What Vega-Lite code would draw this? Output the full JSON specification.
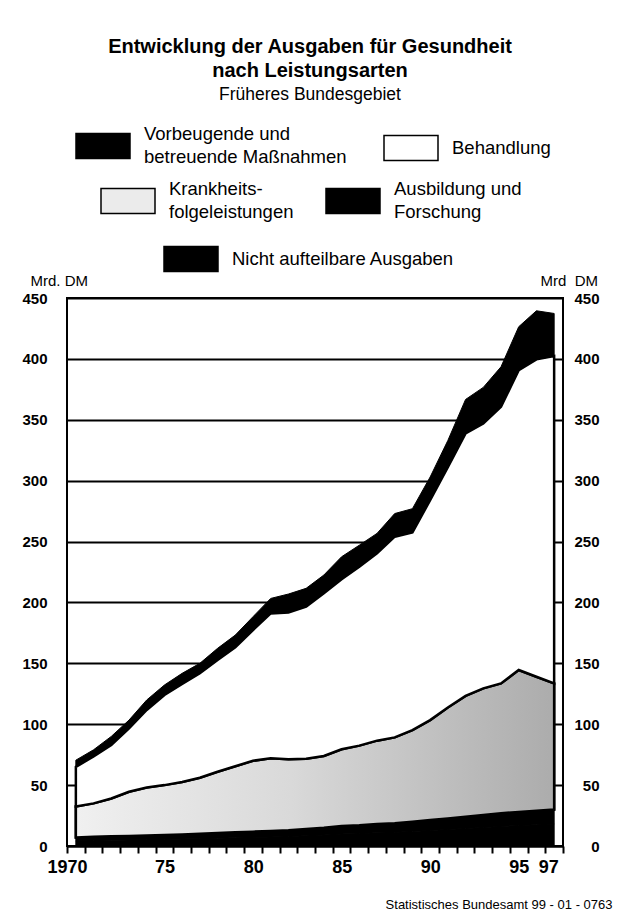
{
  "$schema": "https://vega.github.io/schema/vega-lite/v6.json",
  "width": 496,
  "height": 548,
  "autosize": {"type": "none"},
  "padding": {"left": 67, "top": 298, "right": 55, "bottom": 64},
  "background": "white",
  "config": {
    "font": "Liberation Sans",
    "view": {"stroke": "black", "strokeWidth": 2},
    "style": {"guide-label": {"lineHeight": 23}},
    "legend": {
      "orient": "none",
      "padding": 0,
      "symbolType": "M-1,-0.46H1V0.46H-1Z",
      "symbolSize": 2916,
      "symbolStrokeColor": "black",
      "symbolStrokeWidth": 1.5,
      "labelFont": "Liberation Sans",
      "labelFontSize": 18.5,
      "labelColor": "black",
      "labelLimit": 400,
      "labelOffset": 13
    }
  },
  "title": {
    "text": ["Entwicklung der Ausgaben für Gesundheit", "nach Leistungsarten"],
    "subtitle": "Früheres Bundesgebiet",
    "font": "Liberation Sans",
    "fontSize": 20,
    "fontWeight": "bold",
    "lineHeight": 24,
    "color": "black",
    "subtitleFont": "Liberation Sans",
    "subtitleFontSize": 17.5,
    "subtitleColor": "black",
    "subtitlePadding": 5,
    "anchor": "middle",
    "dx": -5,
    "offset": 15
  },
  "data": {
    "values": [
      {"year": 1970, "cat": "Nicht aufteilbare Ausgaben", "value": 4.2},
      {"year": 1970, "cat": "Ausbildung und Forschung", "value": 2.8},
      {"year": 1970, "cat": "Krankheitsfolgeleistungen", "value": 25.5},
      {"year": 1970, "cat": "Behandlung", "value": 32.5},
      {"year": 1970, "cat": "Vorbeugende und betreuende Maßnahmen", "value": 5.5},
      {"year": 1971, "cat": "Nicht aufteilbare Ausgaben", "value": 4.5},
      {"year": 1971, "cat": "Ausbildung und Forschung", "value": 3.0},
      {"year": 1971, "cat": "Krankheitsfolgeleistungen", "value": 27.5},
      {"year": 1971, "cat": "Behandlung", "value": 38.5},
      {"year": 1971, "cat": "Vorbeugende und betreuende Maßnahmen", "value": 5.5},
      {"year": 1972, "cat": "Nicht aufteilbare Ausgaben", "value": 4.8},
      {"year": 1972, "cat": "Ausbildung und Forschung", "value": 3.2},
      {"year": 1972, "cat": "Krankheitsfolgeleistungen", "value": 31.0},
      {"year": 1972, "cat": "Behandlung", "value": 44.0},
      {"year": 1972, "cat": "Vorbeugende und betreuende Maßnahmen", "value": 7.0},
      {"year": 1973, "cat": "Nicht aufteilbare Ausgaben", "value": 5.0},
      {"year": 1973, "cat": "Ausbildung und Forschung", "value": 3.3},
      {"year": 1973, "cat": "Krankheitsfolgeleistungen", "value": 36.2},
      {"year": 1973, "cat": "Behandlung", "value": 52.1},
      {"year": 1973, "cat": "Vorbeugende und betreuende Maßnahmen", "value": 6.8},
      {"year": 1974, "cat": "Nicht aufteilbare Ausgaben", "value": 5.2},
      {"year": 1974, "cat": "Ausbildung und Forschung", "value": 3.5},
      {"year": 1974, "cat": "Krankheitsfolgeleistungen", "value": 39.3},
      {"year": 1974, "cat": "Behandlung", "value": 63.7},
      {"year": 1974, "cat": "Vorbeugende und betreuende Maßnahmen", "value": 8.2},
      {"year": 1975, "cat": "Nicht aufteilbare Ausgaben", "value": 5.4},
      {"year": 1975, "cat": "Ausbildung und Forschung", "value": 3.6},
      {"year": 1975, "cat": "Krankheitsfolgeleistungen", "value": 41.0},
      {"year": 1975, "cat": "Behandlung", "value": 74.0},
      {"year": 1975, "cat": "Vorbeugende und betreuende Maßnahmen", "value": 8.2},
      {"year": 1976, "cat": "Nicht aufteilbare Ausgaben", "value": 5.7},
      {"year": 1976, "cat": "Ausbildung und Forschung", "value": 3.8},
      {"year": 1976, "cat": "Krankheitsfolgeleistungen", "value": 43.0},
      {"year": 1976, "cat": "Behandlung", "value": 80.5},
      {"year": 1976, "cat": "Vorbeugende und betreuende Maßnahmen", "value": 8.8},
      {"year": 1977, "cat": "Nicht aufteilbare Ausgaben", "value": 6.0},
      {"year": 1977, "cat": "Ausbildung und Forschung", "value": 4.0},
      {"year": 1977, "cat": "Krankheitsfolgeleistungen", "value": 46.0},
      {"year": 1977, "cat": "Behandlung", "value": 85.8},
      {"year": 1977, "cat": "Vorbeugende und betreuende Maßnahmen", "value": 8.2},
      {"year": 1978, "cat": "Nicht aufteilbare Ausgaben", "value": 6.4},
      {"year": 1978, "cat": "Ausbildung und Forschung", "value": 4.2},
      {"year": 1978, "cat": "Krankheitsfolgeleistungen", "value": 50.4},
      {"year": 1978, "cat": "Behandlung", "value": 91.7},
      {"year": 1978, "cat": "Vorbeugende und betreuende Maßnahmen", "value": 9.6},
      {"year": 1979, "cat": "Nicht aufteilbare Ausgaben", "value": 6.7},
      {"year": 1979, "cat": "Ausbildung und Forschung", "value": 4.5},
      {"year": 1979, "cat": "Krankheitsfolgeleistungen", "value": 54.3},
      {"year": 1979, "cat": "Behandlung", "value": 97.6},
      {"year": 1979, "cat": "Vorbeugende und betreuende Maßnahmen", "value": 10.1},
      {"year": 1980, "cat": "Nicht aufteilbare Ausgaben", "value": 7.1},
      {"year": 1980, "cat": "Ausbildung und Forschung", "value": 4.7},
      {"year": 1980, "cat": "Krankheitsfolgeleistungen", "value": 58.2},
      {"year": 1980, "cat": "Behandlung", "value": 107.3},
      {"year": 1980, "cat": "Vorbeugende und betreuende Maßnahmen", "value": 11.0},
      {"year": 1981, "cat": "Nicht aufteilbare Ausgaben", "value": 7.4},
      {"year": 1981, "cat": "Ausbildung und Forschung", "value": 5.0},
      {"year": 1981, "cat": "Krankheitsfolgeleistungen", "value": 59.6},
      {"year": 1981, "cat": "Behandlung", "value": 119.0},
      {"year": 1981, "cat": "Vorbeugende und betreuende Maßnahmen", "value": 12.3},
      {"year": 1982, "cat": "Nicht aufteilbare Ausgaben", "value": 7.8},
      {"year": 1982, "cat": "Ausbildung und Forschung", "value": 5.2},
      {"year": 1982, "cat": "Krankheitsfolgeleistungen", "value": 58.2},
      {"year": 1982, "cat": "Behandlung", "value": 120.6},
      {"year": 1982, "cat": "Vorbeugende und betreuende Maßnahmen", "value": 15.1},
      {"year": 1983, "cat": "Nicht aufteilbare Ausgaben", "value": 8.4},
      {"year": 1983, "cat": "Ausbildung und Forschung", "value": 5.6},
      {"year": 1983, "cat": "Krankheitsfolgeleistungen", "value": 57.7},
      {"year": 1983, "cat": "Behandlung", "value": 124.9},
      {"year": 1983, "cat": "Vorbeugende und betreuende Maßnahmen", "value": 15.0},
      {"year": 1984, "cat": "Nicht aufteilbare Ausgaben", "value": 9.0},
      {"year": 1984, "cat": "Ausbildung und Forschung", "value": 6.0},
      {"year": 1984, "cat": "Krankheitsfolgeleistungen", "value": 58.9},
      {"year": 1984, "cat": "Behandlung", "value": 133.6},
      {"year": 1984, "cat": "Vorbeugende und betreuende Maßnahmen", "value": 15.0},
      {"year": 1985, "cat": "Nicht aufteilbare Ausgaben", "value": 9.8},
      {"year": 1985, "cat": "Ausbildung und Forschung", "value": 6.6},
      {"year": 1985, "cat": "Krankheitsfolgeleistungen", "value": 63.0},
      {"year": 1985, "cat": "Behandlung", "value": 139.6},
      {"year": 1985, "cat": "Vorbeugende und betreuende Maßnahmen", "value": 18.5},
      {"year": 1986, "cat": "Nicht aufteilbare Ausgaben", "value": 10.2},
      {"year": 1986, "cat": "Ausbildung und Forschung", "value": 6.8},
      {"year": 1986, "cat": "Krankheitsfolgeleistungen", "value": 65.4},
      {"year": 1986, "cat": "Behandlung", "value": 146.9},
      {"year": 1986, "cat": "Vorbeugende und betreuende Maßnahmen", "value": 17.7},
      {"year": 1987, "cat": "Nicht aufteilbare Ausgaben", "value": 10.8},
      {"year": 1987, "cat": "Ausbildung und Forschung", "value": 7.2},
      {"year": 1987, "cat": "Krankheitsfolgeleistungen", "value": 68.5},
      {"year": 1987, "cat": "Behandlung", "value": 153.8},
      {"year": 1987, "cat": "Vorbeugende und betreuende Maßnahmen", "value": 16.4},
      {"year": 1988, "cat": "Nicht aufteilbare Ausgaben", "value": 11.2},
      {"year": 1988, "cat": "Ausbildung und Forschung", "value": 7.4},
      {"year": 1988, "cat": "Krankheitsfolgeleistungen", "value": 70.6},
      {"year": 1988, "cat": "Behandlung", "value": 164.8},
      {"year": 1988, "cat": "Vorbeugende und betreuende Maßnahmen", "value": 19.0},
      {"year": 1989, "cat": "Nicht aufteilbare Ausgaben", "value": 12.0},
      {"year": 1989, "cat": "Ausbildung und Forschung", "value": 8.0},
      {"year": 1989, "cat": "Krankheitsfolgeleistungen", "value": 75.2},
      {"year": 1989, "cat": "Behandlung", "value": 162.3},
      {"year": 1989, "cat": "Vorbeugende und betreuende Maßnahmen", "value": 19.5},
      {"year": 1990, "cat": "Nicht aufteilbare Ausgaben", "value": 12.8},
      {"year": 1990, "cat": "Ausbildung und Forschung", "value": 8.5},
      {"year": 1990, "cat": "Krankheitsfolgeleistungen", "value": 82.1},
      {"year": 1990, "cat": "Behandlung", "value": 180.6},
      {"year": 1990, "cat": "Vorbeugende und betreuende Maßnahmen", "value": 19.0},
      {"year": 1991, "cat": "Nicht aufteilbare Ausgaben", "value": 13.6},
      {"year": 1991, "cat": "Ausbildung und Forschung", "value": 9.0},
      {"year": 1991, "cat": "Krankheitsfolgeleistungen", "value": 91.2},
      {"year": 1991, "cat": "Behandlung", "value": 197.2},
      {"year": 1991, "cat": "Vorbeugende und betreuende Maßnahmen", "value": 22.0},
      {"year": 1992, "cat": "Nicht aufteilbare Ausgaben", "value": 14.4},
      {"year": 1992, "cat": "Ausbildung und Forschung", "value": 9.6},
      {"year": 1992, "cat": "Krankheitsfolgeleistungen", "value": 99.2},
      {"year": 1992, "cat": "Behandlung", "value": 215.6},
      {"year": 1992, "cat": "Vorbeugende und betreuende Maßnahmen", "value": 27.9},
      {"year": 1993, "cat": "Nicht aufteilbare Ausgaben", "value": 15.2},
      {"year": 1993, "cat": "Ausbildung und Forschung", "value": 10.2},
      {"year": 1993, "cat": "Krankheitsfolgeleistungen", "value": 104.0},
      {"year": 1993, "cat": "Behandlung", "value": 217.6},
      {"year": 1993, "cat": "Vorbeugende und betreuende Maßnahmen", "value": 29.6},
      {"year": 1994, "cat": "Nicht aufteilbare Ausgaben", "value": 16.1},
      {"year": 1994, "cat": "Ausbildung und Forschung", "value": 10.7},
      {"year": 1994, "cat": "Krankheitsfolgeleistungen", "value": 106.7},
      {"year": 1994, "cat": "Behandlung", "value": 227.2},
      {"year": 1994, "cat": "Vorbeugende und betreuende Maßnahmen", "value": 32.8},
      {"year": 1995, "cat": "Nicht aufteilbare Ausgaben", "value": 16.8},
      {"year": 1995, "cat": "Ausbildung und Forschung", "value": 11.2},
      {"year": 1995, "cat": "Krankheitsfolgeleistungen", "value": 116.5},
      {"year": 1995, "cat": "Behandlung", "value": 246.3},
      {"year": 1995, "cat": "Vorbeugende und betreuende Maßnahmen", "value": 35.6},
      {"year": 1996, "cat": "Nicht aufteilbare Ausgaben", "value": 17.4},
      {"year": 1996, "cat": "Ausbildung und Forschung", "value": 11.6},
      {"year": 1996, "cat": "Krankheitsfolgeleistungen", "value": 110.0},
      {"year": 1996, "cat": "Behandlung", "value": 260.6},
      {"year": 1996, "cat": "Vorbeugende und betreuende Maßnahmen", "value": 39.9},
      {"year": 1997, "cat": "Nicht aufteilbare Ausgaben", "value": 18.0},
      {"year": 1997, "cat": "Ausbildung und Forschung", "value": 12.0},
      {"year": 1997, "cat": "Krankheitsfolgeleistungen", "value": 103.5},
      {"year": 1997, "cat": "Behandlung", "value": 268.8},
      {"year": 1997, "cat": "Vorbeugende und betreuende Maßnahmen", "value": 35.0}
    ]
  },
  "transform": [
    {"stack": "value", "groupby": ["year"], "as": ["y0", "y1"]}
  ],
  "resolve": {"scale": {"fill": "independent"}, "axis": {"x": "independent", "y": "independent"}},
  "layer": [
    {
      "transform": [{"filter": "datum.cat === 'Nicht aufteilbare Ausgaben'"}],
      "mark": {"type": "area", "stroke": "black", "strokeWidth": 1},
      "encoding": {
        "x": {
          "field": "year", "type": "quantitative",
          "scale": {"domain": [1969.5, 1997.5], "nice": false, "zero": false},
          "axis": {
            "values": [1969.5, 1970.5, 1971.5, 1972.5, 1973.5, 1974.5, 1975.5, 1976.5, 1977.5, 1978.5, 1979.5, 1980.5, 1981.5, 1982.5, 1983.5, 1984.5, 1985.5, 1986.5, 1987.5, 1988.5, 1989.5, 1990.5, 1991.5, 1992.5, 1993.5, 1994.5, 1995.5, 1996.5, 1997.5],
            "labelExpr": "datum.value == 1969.5 ? '1970' : datum.value == 1974.5 ? '75' : datum.value == 1979.5 ? '80' : datum.value == 1984.5 ? '85' : datum.value == 1989.5 ? '90' : datum.value == 1994.5 ? '95' : datum.value == 1996.5 ? '97' : ''",
            "labelOffset": {"condition": [{"test": "datum.value < 1970", "value": 0}, {"test": "datum.value > 1996", "value": 3}], "value": 9},
            "labelFlush": false,
            "labelOverlap": false,
            "labelFontSize": 18,
            "labelFontWeight": "bold",
            "labelColor": "black",
            "labelPadding": 5,
            "ticks": true,
            "tickSize": 7,
            "tickWidth": 2,
            "tickColor": "black",
            "domain": true,
            "domainColor": "black",
            "domainWidth": 2,
            "grid": false,
            "title": "Statistisches Bundesamt 99 - 01 - 0763",
            "titleFontSize": 13,
            "titleFontWeight": "normal",
            "titleColor": "black",
            "titleAlign": "right",
            "titleBaseline": "alphabetic",
            "titleX": 545,
            "titleY": 62
          }
        },
        "y": {
          "field": "y1", "type": "quantitative",
          "scale": {"domain": [0, 450], "nice": false},
          "axis": {
            "orient": "left",
            "values": [0, 50, 100, 150, 200, 250, 300, 350, 400, 450],
            "grid": true, "gridColor": "black", "gridWidth": 2, "gridOpacity": 1,
            "ticks": false, "domain": false,
            "labelFontSize": 15, "labelFontWeight": "bold", "labelColor": "black",
            "labelPadding": 20,
            "title": "Mrd. DM",
            "titleAngle": 0, "titleAlign": "left", "titleBaseline": "alphabetic",
            "titleX": -37, "titleY": -13,
            "titleFontSize": 15, "titleFontWeight": "normal", "titleColor": "black"
          }
        },
        "y2": {"field": "y0"},
        "fill": {
          "field": "cat", "type": "nominal",
          "scale": {"range": ["black"]},
          "legend": {"title": null, "legendX": 96, "legendY": -67}
        }
      }
    },
    {
      "transform": [{"filter": "datum.cat === 'Ausbildung und Forschung'"}],
      "mark": {"type": "area", "stroke": "black", "strokeWidth": 1},
      "encoding": {
        "x": {"field": "year", "type": "quantitative", "scale": {"domain": [1969.5, 1997.5], "nice": false, "zero": false}, "axis": null},
        "y": {
          "field": "y1", "type": "quantitative",
          "scale": {"domain": [0, 450], "nice": false},
          "axis": {
            "orient": "right",
            "values": [0, 50, 100, 150, 200, 250, 300, 350, 400, 450],
            "grid": false, "ticks": false, "domain": false,
            "labelFontSize": 15, "labelFontWeight": "bold", "labelColor": "black",
            "labelAlign": "right", "labelPadding": 36,
            "title": "Mrd\u00a0\u00a0DM",
            "titleAngle": 0, "titleAlign": "left", "titleBaseline": "alphabetic",
            "titleX": -23, "titleY": -13,
            "titleFontSize": 15, "titleFontWeight": "normal", "titleColor": "black"
          }
        },
        "y2": {"field": "y0"},
        "fill": {
          "field": "cat", "type": "nominal",
          "scale": {"range": ["black"]},
          "legend": {"title": null, "legendX": 258, "legendY": -125, "labelBaseline": "line-bottom", "labelExpr": "['Ausbildung und', 'Forschung']"}
        }
      }
    },
    {
      "transform": [{"filter": "datum.cat === 'Krankheitsfolgeleistungen'"}],
      "mark": {"type": "area", "stroke": "black", "strokeWidth": 2.5},
      "encoding": {
        "x": {"field": "year", "type": "quantitative", "scale": {"domain": [1969.5, 1997.5], "nice": false, "zero": false}, "axis": null},
        "y": {"field": "y1", "type": "quantitative", "scale": {"domain": [0, 450], "nice": false}, "axis": null},
        "y2": {"field": "y0"},
        "fill": {
          "field": "cat", "type": "nominal",
          "scale": {"range": ["#ebebeb"]},
          "legend": {"title": null, "legendX": 33, "legendY": -125, "labelBaseline": "line-bottom", "labelExpr": "['Krankheits-', 'folgeleistungen']"}
        }
      }
    },
    {
      "transform": [{"filter": "datum.cat === 'Krankheitsfolgeleistungen'"}],
      "mark": {
        "type": "area", "stroke": "black", "strokeWidth": 2.5,
        "fill": {"gradient": "linear", "x1": 0, "y1": 0, "x2": 1, "y2": 0,
          "stops": [{"offset": 0, "color": "#f0f0f0"}, {"offset": 0.45, "color": "#d9d9d9"}, {"offset": 1, "color": "#acacac"}]}
      },
      "encoding": {
        "x": {"field": "year", "type": "quantitative", "scale": {"domain": [1969.5, 1997.5], "nice": false, "zero": false}, "axis": null},
        "y": {"field": "y1", "type": "quantitative", "scale": {"domain": [0, 450], "nice": false}, "axis": null},
        "y2": {"field": "y0"}
      }
    },
    {
      "transform": [{"filter": "datum.cat === 'Behandlung'"}],
      "mark": {"type": "area", "stroke": "black", "strokeWidth": 2.5},
      "encoding": {
        "x": {"field": "year", "type": "quantitative", "scale": {"domain": [1969.5, 1997.5], "nice": false, "zero": false}, "axis": null},
        "y": {"field": "y1", "type": "quantitative", "scale": {"domain": [0, 450], "nice": false}, "axis": null},
        "y2": {"field": "y0"},
        "fill": {
          "field": "cat", "type": "nominal",
          "scale": {"range": ["white"]},
          "legend": {"title": null, "legendX": 316, "legendY": -178}
        }
      }
    },
    {
      "transform": [{"filter": "datum.cat === 'Vorbeugende und betreuende Maßnahmen'"}],
      "mark": {"type": "area", "stroke": "black", "strokeWidth": 1},
      "encoding": {
        "x": {"field": "year", "type": "quantitative", "scale": {"domain": [1969.5, 1997.5], "nice": false, "zero": false}, "axis": null},
        "y": {"field": "y1", "type": "quantitative", "scale": {"domain": [0, 450], "nice": false}, "axis": null},
        "y2": {"field": "y0"},
        "fill": {
          "field": "cat", "type": "nominal",
          "scale": {"range": ["black"]},
          "legend": {"title": null, "legendX": 8, "legendY": -180, "labelBaseline": "line-bottom", "labelExpr": "['Vorbeugende und', 'betreuende Maßnahmen']"}
        }
      }
    }
  ]
}
